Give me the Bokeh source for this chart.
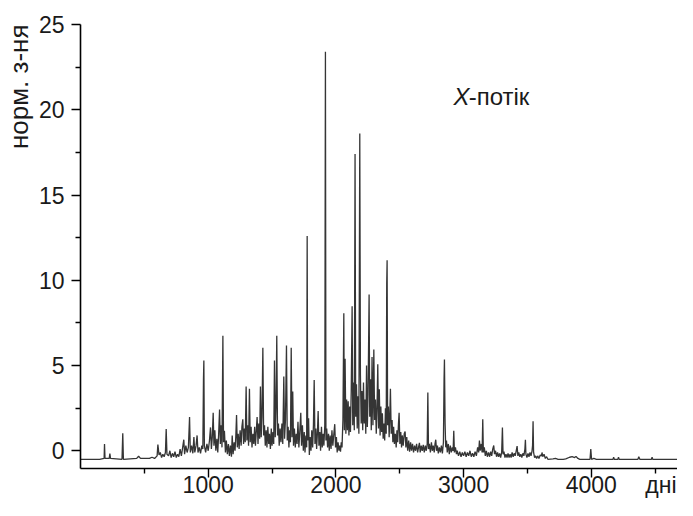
import math
from bokeh.plotting import figure
from bokeh.models import Range1d, FixedTicker, Label, Title, LinearAxis
from bokeh.embed import file_html
from bokeh.resources import INLINE

# ---- data ----
days = [
    0, 150, 185, 188, 192, 225, 230, 235, 325, 331, 336, 440, 455, 470, 540, 560, 580, 600,
    606, 615, 625, 635, 645, 655, 665, 671, 677, 690, 700, 710, 720, 730, 740, 750, 760, 770,
    780, 790, 800, 809, 815, 825, 835, 845, 854, 860, 870, 880, 888, 895, 905, 913, 920, 930,
    940, 950, 958, 963, 966, 970, 980, 990, 1000,
    1010, 1018, 1025, 1032, 1039, 1045, 1052, 1060, 1068, 1075, 1082, 1089, 1095, 1102, 1108,
    1115, 1120, 1127, 1135, 1142, 1150, 1158, 1166, 1174, 1182, 1188, 1195, 1203, 1210, 1216,
    1222, 1228, 1235, 1242, 1250, 1258, 1264, 1271, 1277, 1284, 1290, 1297, 1303, 1310, 1316,
    1323, 1329, 1336, 1343, 1350, 1357, 1364, 1370, 1377, 1383, 1390, 1396, 1403, 1409, 1415,
    1421, 1428, 1434, 1441, 1447, 1454, 1460, 1467, 1474, 1480, 1487, 1494, 1500,
    1507, 1513, 1519, 1525, 1531, 1537, 1543, 1550, 1556, 1563, 1570, 1577, 1584, 1592, 1598,
    1605, 1613, 1619, 1626, 1632, 1638, 1644, 1650, 1656, 1662, 1668, 1675, 1682, 1689, 1696,
    1703, 1710, 1717, 1725, 1731, 1738, 1745, 1752, 1758, 1765, 1771, 1775, 1779, 1786, 1792,
    1798, 1805, 1811, 1818, 1824, 1830, 1836, 1843, 1849, 1855, 1861, 1867, 1874, 1880, 1887,
    1893, 1900, 1906, 1913, 1918, 1922, 1928, 1935, 1942, 1948, 1955, 1962, 1969, 1976, 1984,
    1991, 1997, 2004, 2010, 2017, 2024, 2030, 2036, 2042, 2048,
    2055, 2062, 2066, 2072, 2078, 2084, 2090, 2096, 2102, 2108, 2114, 2120, 2127, 2132, 2138,
    2144, 2150, 2155, 2161, 2167, 2173, 2180, 2187, 2192, 2198, 2204, 2210, 2216, 2222, 2228,
    2234, 2240, 2246, 2252, 2260, 2265, 2271, 2277, 2283, 2290, 2297, 2303, 2310, 2316, 2322,
    2328, 2334, 2340, 2346, 2352, 2358, 2364, 2370, 2376, 2382, 2388, 2394, 2398, 2401, 2405,
    2411, 2417, 2422, 2427, 2433, 2440, 2446,
    2452, 2458, 2465, 2472, 2478, 2484, 2490, 2495, 2501, 2508, 2514, 2520, 2527, 2535, 2542,
    2548, 2555, 2562, 2570, 2577, 2585, 2592, 2600, 2608, 2616, 2624, 2632, 2640, 2647, 2654,
    2660, 2668, 2676, 2684, 2692, 2700, 2708, 2715, 2720, 2725, 2732, 2740, 2748, 2755, 2762,
    2770, 2776, 2782, 2788, 2795, 2802, 2810, 2818, 2826, 2834, 2842, 2847, 2850, 2855, 2860,
    2866, 2872, 2880, 2888, 2896, 2904, 2912, 2918, 2923, 2928, 2936, 2944, 2950,
    2960, 2970, 2980, 2990, 3000, 3010, 3020, 3030, 3040, 3050, 3060, 3070, 3080, 3090, 3100,
    3110, 3118, 3124, 3130, 3138, 3145, 3150, 3155, 3162, 3170, 3178, 3186, 3195, 3204, 3212,
    3220, 3228, 3236, 3242, 3250, 3258, 3266, 3274, 3282, 3290, 3298, 3304, 3309, 3316, 3324,
    3332, 3340, 3348, 3356, 3364, 3372, 3380, 3388, 3396, 3404, 3412, 3419, 3425, 3432, 3440,
    3448, 3456, 3464, 3472, 3480, 3484, 3488, 3496, 3504, 3512, 3520, 3528, 3536, 3540, 3544,
    3548, 3556, 3564, 3572, 3580, 3590, 3600, 3610, 3614, 3620, 3630, 3640, 3650, 3660,
    3700, 3720, 3740, 3780, 3800, 3830, 3850, 3870, 3880, 3895, 3910, 3990, 3996, 4002, 4020,
    4040, 4170, 4175, 4180, 4208, 4213, 4218, 4365, 4372, 4380, 4471, 4476, 4481, 4740,
]
values = [
    -0.5, -0.5, -0.45, 0.4, -0.45, -0.45, -0.17, -0.45, -0.5, 1.02, -0.5, -0.45, -0.32, -0.45, -0.45, -0.38, -0.45, -0.3,
    0.36, -0.25, -0.1, -0.4, -0.2, -0.35, -0.1, 1.27, -0.2, -0.3, 0.0, -0.4, -0.15, -0.35, -0.05, -0.4, -0.2, -0.35,
    0.1, -0.3, 0.2, 0.65, -0.2, 0.3, -0.1, 0.2, 1.98, -0.1, 0.3, -0.15, 0.8, -0.1, 0.3, 0.9, -0.1, 0.2,
    -0.15, 0.3, 0.1, 4.2, 5.3, 0.3, -0.1, 0.4, 0.0,
    0.6, 1.37, 0.1, 0.8, 2.23, 0.3, 1.2, 0.0, 0.7, -0.1, 1.0, 2.42, 0.4, 1.5, 0.2,
    6.75, 0.5, 1.17, -0.1, 0.6, -0.2, 0.4, -0.3, 0.3, -0.35, 0.9, -0.2, 0.5, 0.0, 0.8,
    2.1, 0.2, 1.0, 0.1, 1.2, 0.3, 1.4, 1.85, 0.4, 1.3, 0.5, 3.77, 0.6, 1.5, 0.3,
    3.63, 0.5, 1.4, 0.2, 1.0, 0.4, 1.4, 0.3, 1.2, 1.98, 0.4, 1.6, 0.7, 3.77, 0.8,
    2.0, 6.04, 0.9, 1.5, 0.3, 1.2, 0.2, 1.4, 0.4, 1.0, 0.1, 1.3, 0.3,
    1.1, 0.4, 5.3, 0.8, 2.5, 6.75, 0.9, 1.6, 0.3, 1.3, 0.5, 1.6, 0.4, 4.35, 0.7,
    1.8, 6.17, 0.6, 1.4, 0.2, 1.2, 0.5, 6.04, 0.8, 3.48, 0.3, 1.3, 0.2, 1.0, 0.4,
    1.7, 0.2, 1.1, 2.23, 0.3, 1.5, 0.0, 1.1, -0.1, 0.9, 0.2, 12.6, 0.6, 1.9, -0.25,
    0.8, 0.0, 1.2, 0.2, 1.5, 4.15, 0.4, 1.3, 0.1, 1.0, 2.33, 0.3, 1.1, 0.0, 1.4,
    0.2, 1.0, 0.3, 1.5, 23.4, 0.6, 1.3, 0.2, 1.0, 0.0, 0.9, 0.1, 1.2, 0.3, 1.0,
    1.56, 0.2, 0.8, -0.1, 0.5, 0.0, 0.3, -0.05, 0.5, 0.2,
    1.8, 8.06, 1.2, 5.4, 1.0, 3.0, 1.2, 2.9, 0.9, 2.6, 1.1, 3.5, 8.48, 1.5, 4.0,
    1.2, 17.4, 2.0, 3.9, 1.3, 3.2, 1.0, 18.6, 4.44, 1.6, 3.5, 1.2, 4.0, 1.6, 3.0,
    1.0, 5.0, 1.4, 3.3, 9.16, 2.0, 4.2, 1.2, 5.5, 1.5, 5.94, 1.8, 3.0, 1.0, 2.5,
    5.08, 1.3, 3.6, 0.9, 2.6, 1.1, 2.2, 0.7, 1.6, 0.6, 2.5, 1.0, 9.8, 11.18, 1.5,
    2.6, 0.8, 2.0, 3.63, 1.0, 1.8, 0.5,
    1.4, 0.4, 1.0, 0.2, 1.2, 0.5, 1.6, 2.23, 0.4, 1.1, 0.2, 0.9, 0.3, 1.0, 1.13,
    0.2, 0.8, 0.0, 0.6, -0.05, 0.5, 0.0, 0.4, -0.1, 0.3, 0.0, 0.4, -0.1, 0.2, 0.46,
    -0.1, 0.3, 0.0, 0.35, -0.1, 0.3, 0.0, 0.4, 3.42, 0.1, 0.4, -0.1, 0.5, 0.0, 0.3,
    -0.1, 0.4, 0.65, 0.0, 0.3, -0.15, 0.2, -0.1, 0.3, -0.15, 0.5, 4.2, 5.35, 1.6, 0.2,
    0.6, -0.1, 0.4, -0.2, 0.3, -0.1, 0.2, 0.0, 1.17, -0.1, 0.2, -0.2, 0.0,
    -0.3, -0.05, -0.35, -0.1, -0.3, -0.05, -0.35, -0.1, -0.3, 0.0, -0.35, -0.15, -0.35, -0.05, -0.3,
    0.2, -0.1, 0.6, 0.0, 0.4, -0.1, 1.85, -0.1, 0.2, -0.3, 0.0, -0.35, -0.1, -0.35, -0.05,
    -0.3, 0.1, 0.31, -0.2, 0.0, -0.35, -0.1, -0.35, -0.15, -0.4, -0.1, 1.37, -0.2, -0.05, -0.4,
    -0.2, -0.4, -0.15, -0.4, -0.2, -0.4, -0.1, -0.35, -0.15, -0.3, 0.0, 0.27, -0.3, -0.1, -0.35,
    -0.2, -0.4, -0.15, -0.3, 0.1, 0.65, -0.2, -0.4, -0.15, -0.35, -0.1, -0.3, 0.0, 0.3, 1.73,
    -0.1, -0.4, -0.3, -0.45, -0.3, -0.45, -0.25, -0.3, -0.1, -0.35, -0.2, -0.45, -0.35, -0.5,
    -0.48, -0.45, -0.5, -0.5, -0.48, -0.38, -0.35, -0.4, -0.33, -0.45, -0.5, -0.5, 0.1, -0.5, -0.45,
    -0.5, -0.5, -0.38, -0.5, -0.5, -0.38, -0.5, -0.5, -0.35, -0.5, -0.5, -0.38, -0.5, -0.5,
]

x_ticks = [1000, 2000, 3000, 4000]
x_minor = [500, 1500, 2500, 3500, 4500]
y_ticks = [0, 5, 10, 15, 20, 25]
y_minor = [2.5, 7.5, 12.5, 17.5, 22.5]

y_title = "норм. з-ня"
x_title = "дні"
x_title_at = 4560          # where the x title sits along the axis (days)
note_italic = "X"
note_rest = "-потік"

FONT = "Liberation Sans"
TXT = "#1a1a1a"

p = figure(
    width=677, height=500,
    min_border_left=80, min_border_right=0, min_border_top=24, min_border_bottom=0,
    x_range=Range1d(0, 4675), y_range=Range1d(-1.04, 25.0),
    output_backend="svg", toolbar_location=None,
)
p.outline_line_color = None
p.xgrid.visible = False
p.ygrid.visible = False
p.background_fill_color = "white"
p.border_fill_color = "white"

p.line(days, values, line_color="#353535", line_width=1.3)

xa = p.xaxis[0]
xa.ticker = FixedTicker(ticks=x_ticks, minor_ticks=x_minor)
ya = p.yaxis[0]
ya.ticker = FixedTicker(ticks=y_ticks, minor_ticks=y_minor)

for ax in (xa, ya):
    ax.axis_line_color = "black"
    ax.axis_line_width = 1.6
    ax.major_tick_line_color = "black"
    ax.minor_tick_line_color = "black"
    ax.major_tick_line_width = 1.4
    ax.minor_tick_line_width = 1.4
    ax.major_tick_in = 0
    ax.minor_tick_in = 0
    ax.major_tick_out = 9
    ax.minor_tick_out = 5
    ax.major_label_text_font = FONT
    ax.major_label_text_font_size = "23px"
    ax.major_label_text_color = TXT
xa.major_label_standoff = -2
ya.major_label_standoff = 7

# x title: a tick-less, line-less axis whose single label is pulled up
# onto the same line as the tick numbers (adds no height)
xlab = LinearAxis(
    ticker=FixedTicker(ticks=[x_title_at], minor_ticks=[]),
    major_label_overrides={x_title_at: x_title},
    axis_line_color=None, major_tick_line_color=None, minor_tick_line_color=None,
    major_tick_in=0, major_tick_out=0, minor_tick_in=0, minor_tick_out=0,
    major_label_standoff=-24,
    major_label_text_font=FONT, major_label_text_font_size="23px",
    major_label_text_color=TXT,
)
p.add_layout(xlab, "below")

# y-axis title at the top of the axis
p.add_layout(Title(text=y_title, align="right", standoff=3,
                   text_font=FONT, text_font_size="26px", text_font_style="normal",
                   text_color=TXT), "left")

# annotation inside the frame
p.add_layout(Label(x=2921, y=20.77, text=note_italic, text_align="left", text_baseline="middle",
                   text_font=FONT, text_font_size="24px", text_font_style="italic", text_color=TXT))
p.add_layout(Label(x=3040, y=20.77, text=note_rest, text_align="left", text_baseline="middle",
                   text_font=FONT, text_font_size="24px", text_color=TXT))

open("out.html", "w").write(file_html(p, INLINE))
